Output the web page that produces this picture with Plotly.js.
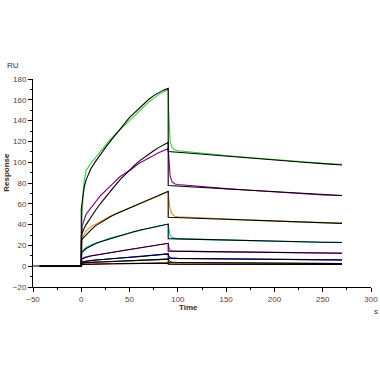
<!DOCTYPE html>
<html><head><meta charset="utf-8">
<script src="https://cdn.plot.ly/plotly-3.0.1.min.js"></script>
<style>html,body{margin:0;padding:0;background:#fff}#chart{width:380px;height:380px}</style>
</head><body><div id="chart"></div>
<script>
const dataTime = [-50, 0, 0.5, 1, 2, 3, 5, 10, 20, 30, 40, 50, 60, 70, 80, 90, 90.5, 91, 92, 94, 97, 100, 110, 130, 150, 170, 190, 210, 230, 250, 270];
const green  = [0, 0, 40, 60, 72, 82, 92, 99, 111, 122, 131, 140, 150, 158, 165, 170, 150, 130, 120, 114, 112, 111, 110, 108, 106.5, 104.8, 103.2, 101.6, 100.2, 99, 98];
const purple = [0, 0, 25, 38, 42, 45, 50, 56, 68, 77, 86, 92, 99, 104, 109, 113, 105, 95, 87, 81, 79, 78.5, 77.6, 76, 74.6, 73.2, 71.8, 70.6, 69.6, 68.4, 68];
const orange = [0, 0, 18, 26, 29, 31, 34, 38, 43, 48, 52, 56, 60, 64, 68, 71.5, 66, 60, 55, 50, 48, 47.5, 47, 46, 45.4, 44.6, 43.8, 43, 42.4, 41.8, 41.5];
const cyan   = [0, 0, 10, 13, 15, 16.5, 18, 20.5, 24, 27, 29.5, 32, 34.5, 36.5, 38.5, 40.5, 37, 33, 30, 27.5, 26.6, 26.3, 26, 25.5, 25, 24.6, 24.2, 23.8, 23.4, 23, 22.9];
const magenta= [0, 0, 5, 7, 8, 8.5, 9, 10, 11.5, 13, 14.5, 16, 17.5, 19, 20.5, 22, 19, 17, 15.5, 14.8, 14.5, 14.4, 14.3, 14, 13.8, 13.5, 13.3, 13.1, 12.9, 12.7, 12.6];
const blue   = [0, 0, 2, 3.5, 4, 4.5, 4.8, 5.5, 6.2, 7, 7.8, 8.5, 9.3, 10, 10.9, 11.8, 10, 9, 8.4, 8, 7.6, 7.5, 7.4, 7.2, 7, 6.9, 6.7, 6.6, 6.4, 6.3, 6.1];
const darkGreen = [0, 0, 1.5, 2.5, 3, 3.3, 3.5, 3.8, 4.1, 4.5, 4.9, 5.3, 5.6, 6, 6.4, 6.8, 6, 5, 4.4, 4, 3.7, 3.6, 3.5, 3.4, 3.3, 3.2, 3.1, 3, 2.8, 2.7, 2.6];
const red    = [0, 0, 1, 1.5, 1.7, 1.8, 1.9, 2, 2.2, 2.3, 2.5, 2.6, 2.7, 2.8, 2.9, 3, 2.6, 2.3, 2.2, 2.1, 2, 2, 2, 2, 1.9, 1.9, 1.9, 1.8, 1.8, 1.8, 1.8];

// ---- fitted curves (black) ----
const fitTime = [-43, 0, 0, 1, 2, 3, 5, 7, 10, 15, 20, 25, 30, 35, 40, 45, 50, 55, 60, 65, 70, 75, 80, 85, 90, 90, 110, 130, 150, 170, 190, 210, 230, 250, 270];
const fitGreen   = [0, 0, 55, 63, 70, 76, 83, 88, 94, 101, 108, 114, 120, 126, 132, 137.5, 143, 147.5, 152, 156.5, 160.5, 164, 167, 169.3, 171, 110.3, 108.8, 107.2, 105.7, 104.2, 102.8, 101.3, 99.9, 98.6, 97.3];
const fitPurple  = [0, 0, 30, 32.5, 34.5, 36.5, 40, 43, 47, 54, 60.5, 66.5, 72, 77.5, 83, 88, 93, 97, 101, 104.5, 108, 111, 114, 116.5, 119, 77.5, 76.5, 75.4, 74.3, 73.2, 72.1, 71, 70, 69, 68];
const fitOrange  = [0, 0, 25, 26, 27, 28, 30.5, 32.5, 35, 39, 42, 45, 47.5, 50, 52, 54, 56, 58, 60, 62, 64, 66, 68, 70, 72, 47, 46.4, 45.8, 45.1, 44.4, 43.7, 43, 42.4, 41.8, 41.2];
const fitCyan    = [0, 0, 13, 14, 14.8, 15.5, 17, 18, 19.5, 21.8, 23.5, 25, 26.5, 28, 29.5, 30.8, 32, 33.3, 34.5, 35.5, 36.5, 37.5, 38.5, 39.5, 40.5, 26.5, 26, 25.6, 25.1, 24.7, 24.2, 23.8, 23.4, 23.1, 22.8];
const fitMagenta = [0, 0, 7, 7.4, 7.7, 8, 8.6, 9.1, 9.8, 10.7, 11.5, 12.3, 13, 13.8, 14.6, 15.4, 16.1, 16.9, 17.6, 18.3, 19, 19.8, 20.5, 21.2, 22, 14.5, 14.2, 14, 13.8, 13.5, 13.3, 13.1, 12.9, 12.7, 12.5];
const fitBlue    = [0, 0, 4, 4.2, 4.4, 4.6, 4.9, 5.2, 5.5, 5.9, 6.2, 6.6, 7, 7.4, 7.8, 8.2, 8.5, 8.9, 9.3, 9.6, 10, 10.4, 10.9, 11.3, 11.8, 7.5, 7.3, 7.1, 7, 6.8, 6.6, 6.5, 6.3, 6.2, 6];
const fitDkGreen = [0, 0, 3, 3.1, 3.2, 3.3, 3.4, 3.6, 3.8, 3.9, 4.1, 4.3, 4.5, 4.7, 4.9, 5.1, 5.3, 5.4, 5.6, 5.8, 6, 6.2, 6.4, 6.6, 6.8, 3.6, 3.5, 3.3, 3.2, 3.1, 3, 2.9, 2.8, 2.7, 2.6];
const fitRed     = [0, 0, 1.7, 1.7, 1.8, 1.8, 1.9, 1.9, 2, 2.1, 2.2, 2.2, 2.3, 2.4, 2.5, 2.5, 2.6, 2.6, 2.7, 2.7, 2.8, 2.8, 2.9, 2.9, 3, 2, 2, 2, 1.9, 1.9, 1.9, 1.9, 1.8, 1.8, 1.8];

const seriesData = [
  {y: red, c: '#ff0000'}, {y: darkGreen, c: '#006400'}, {y: blue, c: '#0000ff'},
  {y: magenta, c: '#ff00ff'}, {y: cyan, c: '#00c8c8'}, {y: orange, c: '#d49a1a'},
  {y: purple, c: '#800080'}, {y: green, c: '#33cc33'}
];
const fits = [fitRed, fitDkGreen, fitBlue, fitMagenta, fitCyan, fitOrange, fitPurple, fitGreen];

const traces = [];
seriesData.forEach(s => traces.push({x: dataTime, y: s.y, type: 'scatter', mode: 'lines',
  line: {color: s.c, width: 1.1}, hoverinfo: 'skip'}));
fits.forEach(f => traces.push({x: fitTime, y: f, type: 'scatter', mode: 'lines',
  line: {color: '#000000', width: 1.1}, hoverinfo: 'skip'}));

const fam = 'Liberation Sans, Arial, sans-serif';
const tickFont = {family: fam, size: 8, color: '#6b3a1f'};
const ann = (text, x, y, extra) => Object.assign({text: text, xref: 'paper', yref: 'paper', x: x, y: y,
  xanchor: 'center', yanchor: 'middle', showarrow: false, font: {family: fam, size: 8, color: '#3a2a2a'}}, extra || {});
const layout = {
  width: 380, height: 380, showlegend: false,
  paper_bgcolor: '#ffffff', plot_bgcolor: '#ffffff',
  margin: {l: 33, r: 9, t: 79, b: 93},
  xaxis: {range: [-50, 300], tickvals: [-50, 0, 50, 100, 150, 200, 250, 300],
    showline: true, linecolor: '#000', linewidth: 1, ticks: 'outside', ticklen: 4, tickcolor: '#000',
    showgrid: false, zeroline: false, tickfont: tickFont,
    minor: {dtick: 25, tick0: 0, ticks: 'outside', ticklen: 2, tickcolor: '#000', showgrid: false}},
  yaxis: {range: [-20, 180], dtick: 20, tick0: 0,
    showline: true, linecolor: '#000', linewidth: 1, ticks: 'outside', ticklen: 4, tickcolor: '#000',
    showgrid: false, zeroline: false, tickfont: tickFont,
    minor: {dtick: 10, tick0: 0, ticks: 'outside', ticklen: 2, tickcolor: '#000', showgrid: false}},
  annotations: [
    ann('RU', -0.059, 1.063, {font: {family: fam, size: 8, color: '#1a2a5a'}}),
    ann('<b>Response</b>', -0.077, 0.554, {textangle: -90}),
    ann('<b>Time</b>', 0.459, -0.1),
    ann('s', 1.015, -0.119)
  ]
};
Plotly.newPlot('chart', traces, layout, {staticPlot: true, displayModeBar: false});
</script></body></html>
